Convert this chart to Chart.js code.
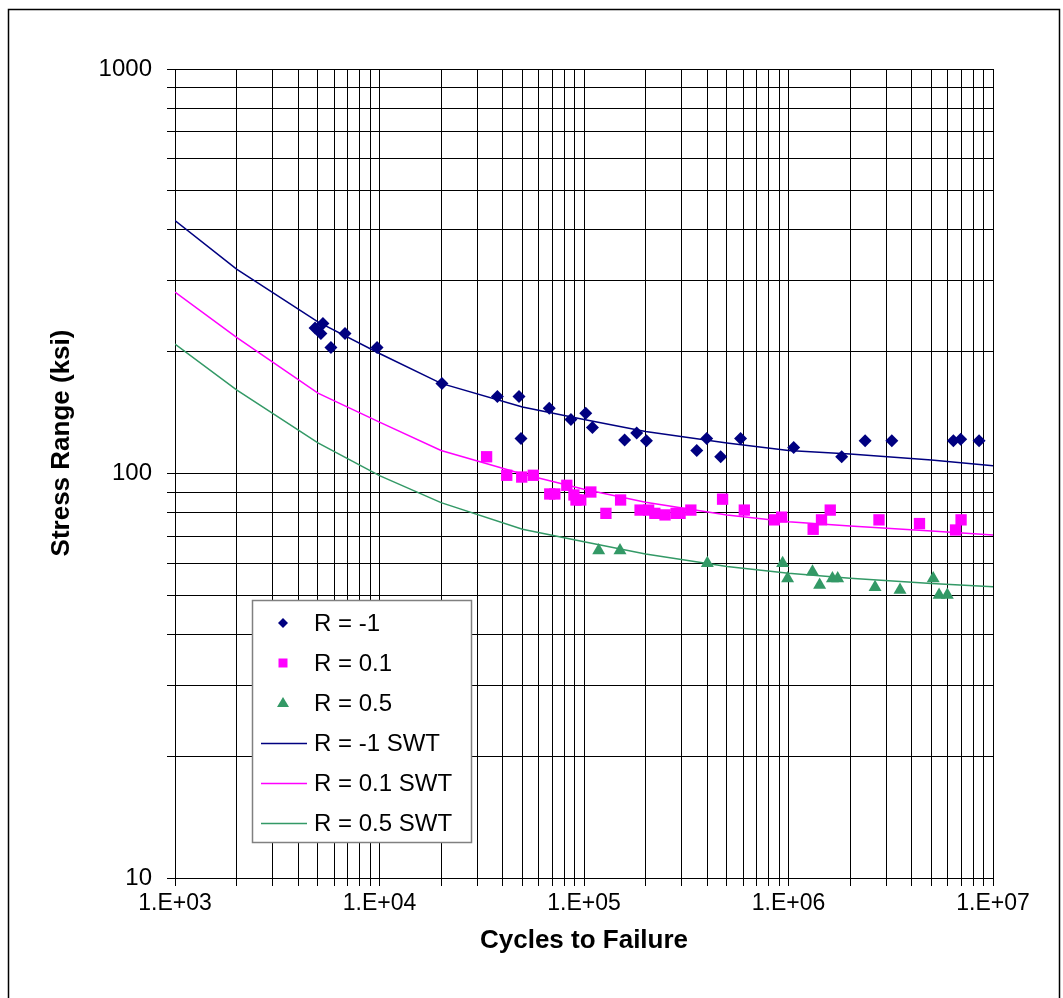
<!DOCTYPE html>
<html>
<head>
<meta charset="utf-8">
<script src="https://cdn.jsdelivr.net/npm/chart.js@4"></script>
<style>
  html, body { margin: 0; padding: 0; background: #fff; }
  #chartDiv { width: 1063px; height: 998px; }
</style>
</head>
<body>
<div id="chartDiv"><canvas id="myChart" width="1063" height="998"></canvas></div>
<script>
// test data
const rm1Cycles = [4840, 5290, 5170, 5790, 6780, 9730, 20200, 37700, 48100, 49200, 67600, 86300, 102000, 110000,
  158000, 181000, 202000, 356000, 398000, 466000, 583000, 1060000, 1820000, 2370000, 3200000, 6400000, 6950000, 8550000];
const rm1Stress = [229, 235, 222, 205, 222, 205, 167, 155, 155, 122, 145, 136, 141, 130,
  121, 126, 120.5, 114, 122, 110, 122, 116, 110, 120.5, 120.5, 120.5, 121.5, 120.5];

const r01Cycles = [33400, 41900, 49600, 56500, 68000, 72000, 82400, 89300, 91400, 96400, 108000, 128000, 151000,
  188000, 207000, 222000, 249000, 282000, 295000, 333000, 476000, 608000, 852000, 926000, 1320000, 1450000,
  1600000, 2770000, 4370000, 6560000, 6980000];
const r01Stress = [110, 99, 98, 99, 89, 89, 93.5, 88.5, 86, 86, 90, 79.7, 86,
  81.2, 81.2, 79.7, 79, 79.7, 79.7, 81.2, 86.4, 81.2, 76.8, 78, 72.8, 76.8,
  81.2, 76.8, 75.2, 72.5, 76.8];

const r05Cycles = [118000, 150000, 401000, 936000, 990000, 1310000, 1420000, 1640000, 1740000, 2650000,
  3510000, 5100000, 5450000, 5980000];
const r05Stress = [64.5, 64.5, 60, 60, 55, 57.2, 53, 55, 55, 52.3, 51.5, 55, 50.1, 50.1];

// SWT fit curves
const swtCycles = [1e3, 2e3, 5e3, 1e4, 2e4, 5e4, 1e5, 2e5, 5e5, 1e6, 2e6, 5e6, 1e7];
const swtRm1 = [422, 320, 237, 198, 167, 146, 136, 127, 119, 114, 111.7, 108, 104.5];
const swtR01 = [281, 217, 158, 134, 114, 99.7, 91.4, 84.9, 79, 76, 74.2, 72.1, 70.5];
const swtR05 = [209, 161, 119, 98.8, 84.7, 72.8, 67.8, 63.2, 58.9, 56.7, 55.1, 53.5, 52.5];

const xTicks = [];
for (let e = 3; e < 7; e++) for (let m = 1; m < 10; m++) xTicks.push(m * Math.pow(10, e));
xTicks.push(1e7);
const yTicks = [];
for (let e = 1; e < 3; e++) for (let m = 1; m < 10; m++) yTicks.push(m * Math.pow(10, e));
yTicks.push(1000);

const navy = '#000080', pink = '#FF00FF', green = '#339966';
const fam = '"Liberation Sans", Arial, sans-serif';

function pts(xs, ys) {
  return xs.map((x, i) => ({ x: x, y: ys[i] }));
}
function isPow(v) {
  const l = Math.log10(v);
  return Math.abs(l - Math.round(l)) < 1e-9;
}

var ctx = document.getElementById('myChart');

var data = [
  { label: 'R = -1', data: pts(rm1Cycles, rm1Stress), pointStyle: 'rectRot', pointRadius: 6.5,
    backgroundColor: navy, borderColor: navy, borderWidth: 0, showLine: false },
  { label: 'R = 0.1', data: pts(r01Cycles, r01Stress), pointStyle: 'rect', pointRadius: 8,
    backgroundColor: pink, borderColor: pink, borderWidth: 0, showLine: false },
  { label: 'R = 0.5', data: pts(r05Cycles, r05Stress), pointStyle: 'triangle', pointRadius: 7.5,
    backgroundColor: green, borderColor: green, borderWidth: 0, showLine: false },
  { label: 'R = -1 SWT', data: pts(swtCycles, swtRm1), showLine: true, pointRadius: 0,
    borderColor: navy, borderWidth: 1.5, fill: false },
  { label: 'R = 0.1 SWT', data: pts(swtCycles, swtR01), showLine: true, pointRadius: 0,
    borderColor: pink, borderWidth: 1.5, fill: false },
  { label: 'R = 0.5 SWT', data: pts(swtCycles, swtR05), showLine: true, pointRadius: 0,
    borderColor: green, borderWidth: 1.5, fill: false }
];

// white page, outer frame and the y title (sits a bit above the plot centre)
const framePlugin = {
  id: 'frame',
  beforeDraw(chart) {
    const c = chart.ctx;
    c.save();
    c.fillStyle = '#fff';
    c.fillRect(0, 0, chart.width, chart.height);
    c.strokeStyle = '#000';
    c.lineWidth = 1.5;
    c.strokeRect(8.5, 9.5, 1051, 1010);
    c.translate(62, 443);
    c.rotate(-Math.PI / 2);
    c.fillStyle = '#000';
    c.font = 'bold 26px ' + fam;
    c.textAlign = 'center';
    c.textBaseline = 'middle';
    c.fillText('Stress Range (ksi)', 0, 0);
    c.restore();
  }
};

// legend box inside the plot, like the Excel one
const boxLegend = {
  id: 'boxLegend',
  afterDraw(chart) {
    const c = chart.ctx;
    const left = 252, top = 600, w = 219, h = 242;
    c.save();
    c.fillStyle = '#fff';
    c.fillRect(left, top, w, h);
    c.strokeStyle = '#808080';
    c.lineWidth = 1.5;
    c.strokeRect(left + 0.5, top + 0.5, w, h);
    c.font = '24px ' + fam;
    c.textBaseline = 'middle';
    c.textAlign = 'left';
    chart.data.datasets.forEach((ds, i) => {
      const y = 623 + i * 40;
      const mx = 283;
      if (ds.showLine) {
        c.strokeStyle = ds.borderColor;
        c.lineWidth = 1.5;
        c.beginPath();
        c.moveTo(261, y + 0.5);
        c.lineTo(307, y + 0.5);
        c.stroke();
      } else {
        c.fillStyle = ds.backgroundColor;
        c.beginPath();
        if (ds.pointStyle === 'rectRot') {
          c.moveTo(mx, y - 5); c.lineTo(mx + 5, y); c.lineTo(mx, y + 5); c.lineTo(mx - 5, y);
        } else if (ds.pointStyle === 'rect') {
          c.rect(mx - 4.5, y - 4.5, 9, 9);
        } else {
          c.moveTo(mx, y - 6); c.lineTo(mx + 6, y + 4); c.lineTo(mx - 6, y + 4);
        }
        c.closePath();
        c.fill();
      }
      c.fillStyle = '#000';
      c.fillText(ds.label, 314, y + 1);
    });
    c.restore();
  }
};

var options = {
  responsive: false,
  animation: false,
  devicePixelRatio: 1,
  layout: { padding: { top: 69, right: 70, left: 0, bottom: 0 } },
  plugins: { legend: { display: false }, tooltip: { enabled: false } },
  scales: {
    x: {
      type: 'logarithmic', min: 1e3, max: 1e7, position: 'bottom',
      afterFit: s => { s.height = 120; },
      afterBuildTicks: s => { s.ticks = xTicks.map(v => ({ value: v })); },
      grid: { color: '#000', lineWidth: 1, tickLength: 8 },
      border: { color: '#000', width: 1 },
      ticks: {
        autoSkip: false, maxRotation: 0, padding: 4, color: '#000',
        font: { size: 23, family: fam },
        callback: v => isPow(v) ? '1.E+0' + Math.round(Math.log10(v)) : ''
      },
      title: { display: true, text: 'Cycles to Failure', color: '#000',
        font: { size: 26, weight: 'bold', family: fam }, padding: { top: 0, bottom: 42 } }
    },
    y: {
      type: 'logarithmic', min: 10, max: 1000, position: 'left',
      afterFit: s => { s.width = 175; },
      afterBuildTicks: s => { s.ticks = yTicks.map(v => ({ value: v })); },
      grid: { color: '#000', lineWidth: 1, tickLength: 8 },
      border: { color: '#000', width: 1 },
      ticks: {
        autoSkip: false, padding: 15, color: '#000',
        font: { size: 24, family: fam },
        callback: v => isPow(v) ? String(Math.round(v)) : ''
      },
      title: { display: false }
    }
  }
};

var SNChart = new Chart(ctx, {
  type: 'scatter',
  data: { datasets: data },
  options: options,
  plugins: [framePlugin, boxLegend]
});
</script>
</body>
</html>
